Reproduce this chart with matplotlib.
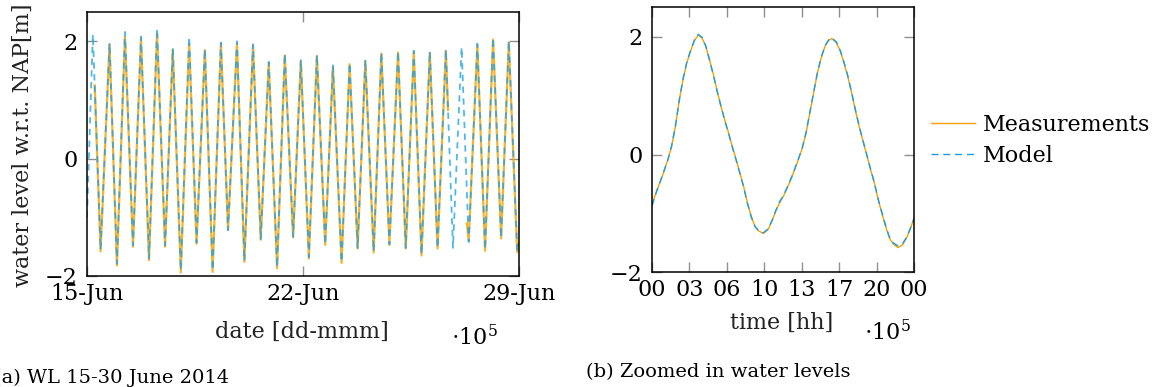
import numpy as np
import matplotlib
matplotlib.use("Agg")
import matplotlib.pyplot as plt

plt.rcParams['font.family'] = ['DejaVu Serif']
plt.rcParams['mathtext.fontset'] = 'dejavuserif'

# ---------------- Panel (a): 15-29 June, extremes of the tide ----------------
meas_day = [15.25, 15.44, 15.73, 15.97, 16.23, 16.49, 16.75, 17.01, 17.27, 17.53,
            17.78, 18.04, 18.31, 18.55, 18.82, 19.07, 19.34, 19.57, 19.86, 20.10,
            20.38, 20.63, 20.89, 21.16, 21.41, 21.68, 21.93, 22.19, 22.45, 22.72,
            22.97, 23.25, 23.51, 23.77, 24.02, 24.29, 24.54, 24.80, 25.08, 25.33,
            25.59, 25.84, 26.11, 26.36, 26.63, 26.70, 27.00, 27.31, 27.37, 27.65,
            27.90, 28.16, 28.42, 28.67, 28.94, 29.00]
meas_wl = [1.25, -1.58, 1.95, -1.82, 2.08, -1.50, 2.05, -1.73, 2.13, -1.50,
           1.86, -1.94, 1.96, -1.45, 1.85, -1.93, 1.96, -1.21, 1.97, -1.76,
           1.93, -1.38, 1.63, -1.87, 1.76, -1.34, 1.66, -1.70, 1.75, -1.47,
           1.56, -1.78, 1.61, -1.53, 1.66, -1.60, 1.79, -1.47, 1.81, -1.53,
           1.82, -1.65, 1.80, -1.53, 1.84, 0.83, np.nan, -1.10, -1.40, 1.94,
           -1.57, 2.03, -1.36, 1.98, -1.59, -1.45]

model_day = [15.00, 15.19, 15.44, 15.73, 15.97, 16.23, 16.49, 16.75, 17.01, 17.27,
             17.53, 17.78, 18.04, 18.31, 18.55, 18.82, 19.07, 19.34, 19.57, 19.86,
             20.10, 20.38, 20.63, 20.89, 21.16, 21.41, 21.68, 21.93, 22.19, 22.45,
             22.72, 22.97, 23.25, 23.51, 23.77, 24.02, 24.29, 24.54, 24.80, 25.08,
             25.33, 25.59, 25.84, 26.11, 26.36, 26.63, 26.86, 27.14, 27.37, 27.65,
             27.90, 28.16, 28.42, 28.67, 28.94, 29.00]
model_wl = [-1.00, 2.12, -1.55, 1.97, -1.79, 2.16, -1.48, 2.08, -1.70, 2.22,
            -1.48, 1.88, -1.90, 2.08, -1.43, 1.87, -1.90, 1.98, -1.22, 2.00,
            -1.74, 1.95, -1.37, 1.65, -1.85, 1.79, -1.33, 1.68, -1.68, 1.77,
            -1.46, 1.59, -1.76, 1.63, -1.52, 1.69, -1.58, 1.81, -1.46, 1.83,
            -1.52, 1.84, -1.63, 1.83, -1.52, 1.86, -1.52, 1.90, -1.42, 1.96,
            -1.55, 2.06, -1.35, 2.01, -1.57, -1.44]

date_ticks = [15, 22, 29]
date_labels = ['15-Jun', '22-Jun', '29-Jun']

# ---------------- Panel (b): one day zoomed in ----------------
zoom_hour = [0.00, 0.42, 0.94, 1.46, 1.80, 2.15, 2.50, 2.84, 3.19, 3.54,
             3.88, 4.23, 4.58, 4.92, 5.27, 5.62, 5.97, 6.31, 6.66, 7.01,
             7.35, 7.70, 8.05, 8.39, 8.74, 9.09, 9.43, 9.78, 10.20, 10.65,
             10.99, 11.34, 11.69, 12.03, 12.38, 12.73, 13.08, 13.42, 13.77, 14.12,
             14.46, 14.81, 15.16, 15.50, 15.85, 16.20, 16.47, 16.89, 17.24, 17.58,
             17.93, 18.28, 18.62, 18.97, 19.32, 19.66, 20.01, 20.36, 20.71, 21.05,
             21.40, 21.75, 22.09, 22.54, 22.96, 23.31, 23.65, 24.00]
zoom_meas = [-0.85, -0.62, -0.37, -0.08, 0.14, 0.48, 0.93, 1.27, 1.56, 1.76,
             1.93, 2.03, 1.98, 1.84, 1.61, 1.36, 1.08, 0.82, 0.59, 0.37,
             0.14, -0.08, -0.31, -0.54, -0.82, -1.05, -1.22, -1.30, -1.34, -1.27,
             -1.13, -0.96, -0.82, -0.71, -0.57, -0.42, -0.25, -0.08, 0.11, 0.37,
             0.71, 1.05, 1.39, 1.64, 1.84, 1.94, 1.97, 1.90, 1.76, 1.56,
             1.33, 1.05, 0.76, 0.48, 0.23, 0.00, -0.25, -0.48, -0.76, -0.99,
             -1.22, -1.42, -1.52, -1.58, -1.53, -1.42, -1.27, -1.08]
zoom_model = [-0.87, -0.63, -0.36, -0.09, 0.15, 0.49, 0.92, 1.28, 1.57, 1.77,
              1.94, 2.04, 1.99, 1.85, 1.60, 1.35, 1.07, 0.83, 0.58, 0.36,
              0.13, -0.09, -0.32, -0.55, -0.83, -1.06, -1.22, -1.30, -1.33, -1.26,
              -1.12, -0.95, -0.80, -0.70, -0.56, -0.41, -0.24, -0.07, 0.12, 0.38,
              0.72, 1.06, 1.40, 1.65, 1.85, 1.95, 1.98, 1.91, 1.77, 1.57,
              1.34, 1.06, 0.77, 0.49, 0.24, 0.01, -0.24, -0.47, -0.75, -0.98,
              -1.21, -1.40, -1.50, -1.55, -1.51, -1.41, -1.26, -1.09]
hour_labels = ['00', '03', '06', '10', '13', '17', '20', '00']

y_ticks = [-2, 0, 2]
y_labels = ['\u22122', '0', '2']

ORANGE = '#F2A100'
BLUE = '#14A0E4'
TICKC = '#8f8f8f'
FS = 16

W, H = 1154, 387
fig = plt.figure(figsize=(W / 100, H / 100), dpi=100)


def fx(px):
    return px / W


def fy(py):
    return 1 - py / H


def style(ax, xpad, ypad):
    for s in ax.spines.values():
        s.set_linewidth(1.1)
        s.set_color('black')
    ax.tick_params(direction='in', length=7.5, width=1.0, color=TICKC,
                   labelcolor='black', labelsize=FS, top=True, right=True)
    ax.tick_params(axis='x', pad=xpad)
    ax.tick_params(axis='y', pad=ypad)
    ax.set_ylim(-2, 2.5)
    ax.set_yticks(y_ticks)
    ax.set_yticklabels(y_labels)


# ---- axes (a)
ax1 = fig.add_axes([fx(87), fy(276), fx(519 - 87), (276 - 12) / H])
ax1.plot(meas_day, meas_wl, color=ORANGE, lw=1.6, alpha=0.8, solid_joinstyle='round')
ax1.plot(model_day, model_wl, color=BLUE, lw=1.3, alpha=0.75,
         linestyle=(0, (3.5, 3.0)))
ax1.set_xlim(15, 29)
ax1.set_xticks(date_ticks)
ax1.set_xticklabels(date_labels)
style(ax1, 5, 7)

# ---- axes (b)
ax2 = fig.add_axes([fx(652), fy(272.3), fx(914 - 652), (272.3 - 7.3) / H])
ax2.plot(zoom_hour, zoom_meas, color=ORANGE, lw=1.0, label='Measurements')
ax2.plot(zoom_hour, zoom_model, color=BLUE, lw=1.0, linestyle=(0, (5, 3.5)),
         label='Model')
ax2.set_xlim(0, 24)
ax2.set_xticks(np.linspace(0, 24, len(hour_labels)))
ax2.set_xticklabels(hour_labels)
style(ax2, 5, 7)

leg = ax2.legend(loc='upper left', bbox_to_anchor=(fx(931), fy(114)),
                 bbox_transform=fig.transFigure, frameon=False, fontsize=FS,
                 borderpad=0, borderaxespad=0, handlelength=2.0,
                 handletextpad=0.35, labelspacing=0.4)

# ---- labels
fig.text(fx(302), fy(332), 'date [dd-mmm]', ha='center', va='center', fontsize=FS, color='#222222')
fig.text(fx(782), fy(323), 'time [hh]', ha='center', va='center', fontsize=FS, color='#222222')
fig.text(fx(23), fy(145), 'water level w.r.t. NAP[m]', rotation=90,
         ha='center', va='center', fontsize=FS, color='#222222')
fig.text(fx(474), fy(338), r'$\cdot 10^{5}$', ha='center', va='center', fontsize=FS)
fig.text(fx(887), fy(333), r'$\cdot 10^{5}$', ha='center', va='center', fontsize=FS)
fig.text(fx(-6), fy(378), '(a) WL 15-30 June 2014', ha='left', va='center', fontsize=14)
fig.text(fx(586), fy(372), '(b) Zoomed in water levels', ha='left', va='center', fontsize=14)

fig.savefig('out.png', dpi=100)
